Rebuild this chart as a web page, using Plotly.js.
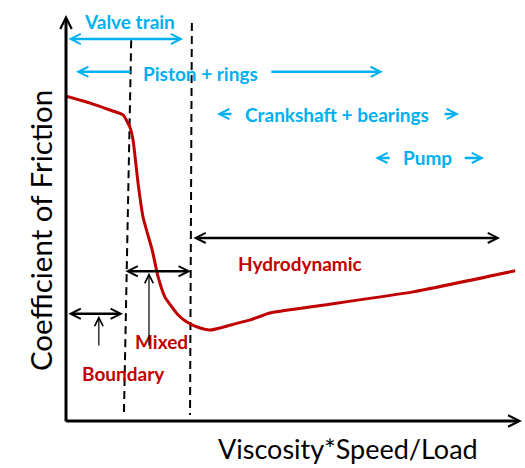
<!DOCTYPE html>
<html>
<head>
<meta charset="utf-8">
<script src="https://cdn.plot.ly/plotly-3.0.1.min.js"></script>
<style>html,body{margin:0;padding:0;background:#fff}#chart{width:525px;height:468px}</style>
</head>
<body>
<div id="chart"></div>
<script>
// Stribeck curve (schematic units: x 0-100, y 0-100)
const curveX = [0, 5.3, 9.6, 12.5, 14.0, 14.7, 15.8, 16.9, 18.9, 20.2, 21.7, 23.2, 24.6, 26.5, 29.4, 31.6, 36.0, 40.4, 44.7, 54.2, 76.1, 98.5];
const curveY = [80, 78.3, 76.6, 75.4, 72.4, 69.2, 58.6, 50.2, 42.1, 35.5, 30.5, 28.1, 26.1, 24.4, 22.9, 22.4, 23.6, 24.9, 26.6, 28.2, 31.8, 37.0];

// Regime boundaries (dashed lines)
const boundary1 = {x: [14.3, 12.7], y: [93.8, 1.5]};
const boundary2 = {x: [27.6, 27.2], y: [98.0, 1.5]};

// Regime labels and spans
const regimeNames = ["Boundary", "Mixed", "Hydrodynamic"];
const regimeLabelX = [12.5, 20.9, 51.3];
const regimeLabelY = [11.8, 19.7, 38.7];
const regimeSpanStart = [0.2, 12.7, 27.6];
const regimeSpanEnd = [12.5, 27.4, 95.2];
const regimeSpanY = [26.4, 36.9, 45.1];
const pointerX = [7.2, 18.2];
const pointerFromY = [18.2, 18.2];
const pointerToY = [25.9, 36.5];

// Engine components and their ranges
const componentNames = ["Valve train", "Piston + rings", "Crankshaft + bearings", "Pump"];
const componentLabelX = [14.0, 29.6, 59.5, 79.3];
const componentLabelY = [98.3, 85.5, 75.6, 64.8];
const componentStart = [0.2, 2.2, 33.1, 67.8];
const componentStartTail = [25.7, 14.5, 36.6, 71.3];
const componentEnd = [null, 69.5, 86.2, 91.7];
const componentEndTail = [null, 44.7, 82.7, 87.1];
const componentArrowY = [94.1, 86.0, 75.6, 64.8];

const xTitle = "Viscosity*Speed/Load";
const yTitle = "Coefficient of Friction";

const RED = "#c00000";
const BLUE = "#00b0f0";
const FONT = "Lato, 'Open Sans', sans-serif";

const traces = [
  {x: boundary1.x, y: boundary1.y, mode: "lines", line: {color: "#000", width: 2, dash: "8px,5px"}, hoverinfo: "skip"},
  {x: boundary2.x, y: boundary2.y, mode: "lines", line: {color: "#000", width: 2, dash: "8px,5px"}, hoverinfo: "skip"},
  {x: curveX, y: curveY, mode: "lines", line: {color: RED, width: 3, shape: "spline", smoothing: 0.5}, hoverinfo: "skip"}
];

const ann = [];
// axes
ann.push({x: 0, y: 100, ax: 0, ay: -0.5, xref: "x", yref: "y", axref: "x", ayref: "y", text: "", showarrow: true, arrowhead: 5, arrowsize: 0.75, arrowwidth: 3, arrowcolor: "#000", standoff: 0});
ann.push({x: 100, y: 0, ax: -0.3, ay: 0, xref: "x", yref: "y", axref: "x", ayref: "y", text: "", showarrow: true, arrowhead: 5, arrowsize: 0.75, arrowwidth: 3, arrowcolor: "#000", standoff: 0});
// axis titles
ann.push({x: 0.618, y: -0.114, xref: "paper", yref: "paper", text: xTitle, showarrow: false, font: {family: FONT, size: 27, color: "#000"}});
ann.push({x: -0.1, y: 0.47, xref: "paper", yref: "paper", text: yTitle, textangle: -90, showarrow: false, font: {family: FONT, size: 29.5, color: "#000"}});

// regimes
for (let i = 0; i < regimeNames.length; i++) {
  ann.push({x: regimeSpanEnd[i], y: regimeSpanY[i], ax: regimeSpanStart[i], ay: regimeSpanY[i], xref: "x", yref: "y", axref: "x", ayref: "y", text: "", showarrow: true, arrowside: "end+start", arrowhead: 5, startarrowhead: 5, arrowsize: 0.8, startarrowsize: 0.8, arrowwidth: 2.5, arrowcolor: "#000", standoff: 0, startstandoff: 0});
  ann.push({x: regimeLabelX[i], y: regimeLabelY[i], xref: "x", yref: "y", text: "<b>" + regimeNames[i] + "</b>", showarrow: false, font: {family: FONT, size: 19, color: RED}});
}
for (let i = 0; i < pointerX.length; i++) {
  ann.push({x: pointerX[i], y: pointerToY[i], ax: pointerX[i], ay: pointerFromY[i], xref: "x", yref: "y", axref: "x", ayref: "y", text: "", showarrow: true, arrowhead: 5, arrowsize: 1.4, arrowwidth: 1.2, arrowcolor: "#000", standoff: 0});
}

// components
for (let i = 0; i < componentNames.length; i++) {
  ann.push({x: componentLabelX[i], y: componentLabelY[i], xref: "x", yref: "y", text: "<b>" + componentNames[i] + "</b>", showarrow: false, font: {family: FONT, size: 19, color: BLUE}});
  if (componentEnd[i] === null) {
    ann.push({x: componentStartTail[i], y: componentArrowY[i], ax: componentStart[i], ay: componentArrowY[i], xref: "x", yref: "y", axref: "x", ayref: "y", text: "", showarrow: true, arrowside: "end+start", arrowhead: 5, startarrowhead: 5, arrowsize: 0.8, startarrowsize: 0.8, arrowwidth: 2.5, arrowcolor: BLUE, standoff: 0, startstandoff: 0});
  } else {
    ann.push({x: componentStart[i], y: componentArrowY[i], ax: componentStartTail[i], ay: componentArrowY[i], xref: "x", yref: "y", axref: "x", ayref: "y", text: "", showarrow: true, arrowhead: 5, arrowsize: 0.8, arrowwidth: 2.5, arrowcolor: BLUE, standoff: 0});
    ann.push({x: componentEnd[i], y: componentArrowY[i], ax: componentEndTail[i], ay: componentArrowY[i], xref: "x", yref: "y", axref: "x", ayref: "y", text: "", showarrow: true, arrowhead: 5, arrowsize: 0.8, arrowwidth: 2.5, arrowcolor: BLUE, standoff: 0});
  }
}

const layout = {
  width: 525, height: 468,
  margin: {l: 66, r: 3, t: 15, b: 47},
  paper_bgcolor: "#fff", plot_bgcolor: "#fff",
  showlegend: false,
  xaxis: {range: [0, 100], visible: false, fixedrange: true},
  yaxis: {range: [0, 100], visible: false, fixedrange: true},
  annotations: ann
};

Plotly.newPlot("chart", traces, layout, {displayModeBar: false, staticPlot: true});
</script>
</body>
</html>
